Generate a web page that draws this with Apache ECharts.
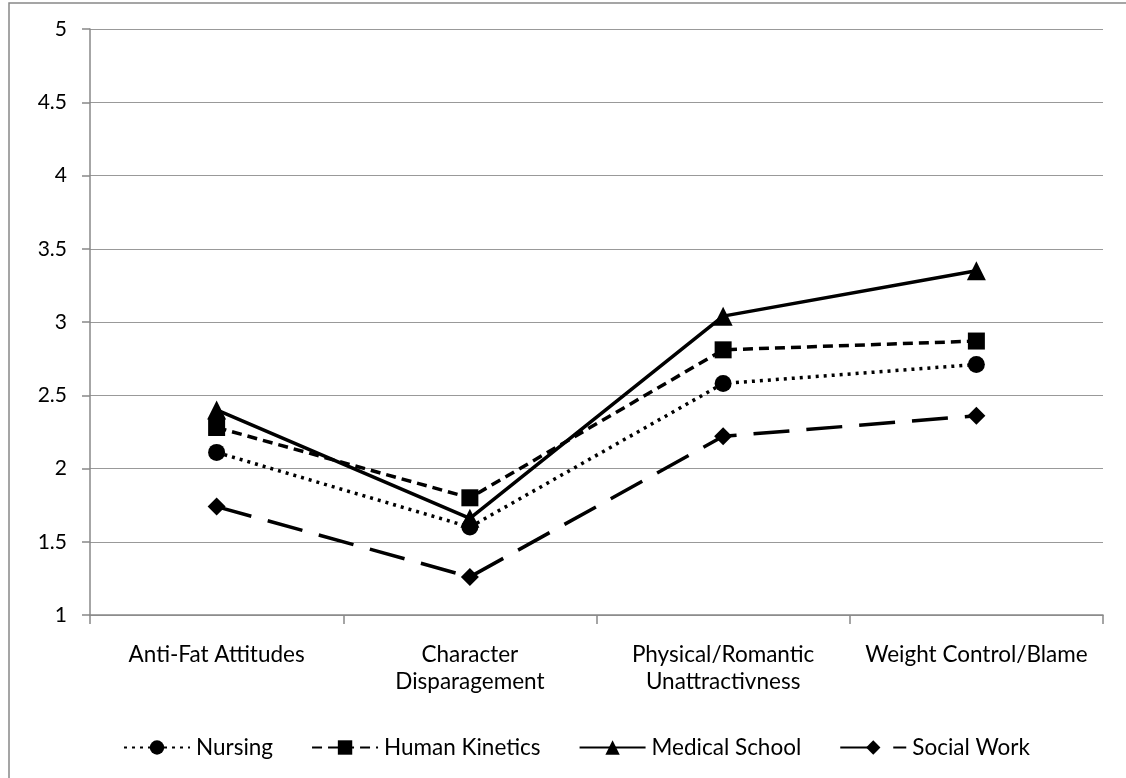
<!DOCTYPE html>
<html>
<head>
<meta charset="utf-8">
<script src="https://cdn.jsdelivr.net/npm/echarts@6/dist/echarts.min.js"></script>
<style>html,body{margin:0;padding:0;background:#fff;}#c{width:1126px;height:778px;}</style>
</head>
<body>
<div id="c"></div>
<script>
const categories = ['Anti-Fat Attitudes', 'Character\nDisparagement', 'Physical/Romantic\nUnattractivness', 'Weight Control/Blame'];
const nursing = [2.11, 1.60, 2.58, 2.71];
const humanKinetics = [2.28, 1.80, 2.81, 2.87];
const medicalSchool = [2.40, 1.66, 3.04, 3.35];
const socialWork = [1.74, 1.26, 2.22, 2.36];
const yTicks = [1, 5, 0.5];

const chart = echarts.init(document.getElementById('c'));
const font = 'Lato, "Open Sans", sans-serif';
function mk(name, data, symbol, size, type, width) {
  return {
    name, type: 'line', data, symbol, symbolSize: size,
    itemStyle: {color: '#000'},
    lineStyle: {color: '#000', width: width, type: type},
    emphasis: {disabled: true}
  };
}
chart.setOption({
  animation: false,
  textStyle: {fontFamily: font},
  graphic: [{type: 'rect', shape: {x: 9, y: 3, width: 1300, height: 1000}, style: {fill: 'none', stroke: '#888', lineWidth: 1.5}, silent: true}],
  grid: {left: 90, right: 23, top: 29, bottom: 163},
  legend: {
    top: 731, left: 118, itemWidth: 66, itemHeight: 18, itemGap: 38,
    textStyle: {fontSize: 22.5, color: '#000', fontFamily: font, padding: [0, 0, 0, 1]},
    data: ['Nursing', 'Human Kinetics', 'Medical School', 'Social Work']
  },
  xAxis: {
    type: 'category', data: categories, boundaryGap: true,
    axisLine: {lineStyle: {color: '#888', width: 1.5}},
    axisTick: {show: true, length: 9, lineStyle: {color: '#888', width: 1.5}},
    axisLabel: {fontSize: 22.5, color: '#000', margin: 26, lineHeight: 27, interval: 0, fontFamily: font}
  },
  yAxis: {
    type: 'value', min: yTicks[0], max: yTicks[1], interval: yTicks[2],
    axisLine: {show: true, lineStyle: {color: '#888', width: 1.5}},
    axisTick: {show: true, length: 8, lineStyle: {color: '#888', width: 1.5}},
    splitLine: {lineStyle: {color: '#999', width: 1.2}},
    axisLabel: {fontSize: 21, color: '#000', margin: 23, fontFamily: font}
  },
  series: [
    mk('Nursing', nursing, 'circle', 17, [3, 5], 3.5),
    mk('Human Kinetics', humanKinetics, 'rect', 17, [10, 6], 3.5),
    mk('Medical School', medicalSchool, 'triangle', 19, 'solid', 3.5),
    mk('Social Work', socialWork, 'diamond', 18, [36, 17], 3.5)
  ]
});
</script>
</body>
</html>
